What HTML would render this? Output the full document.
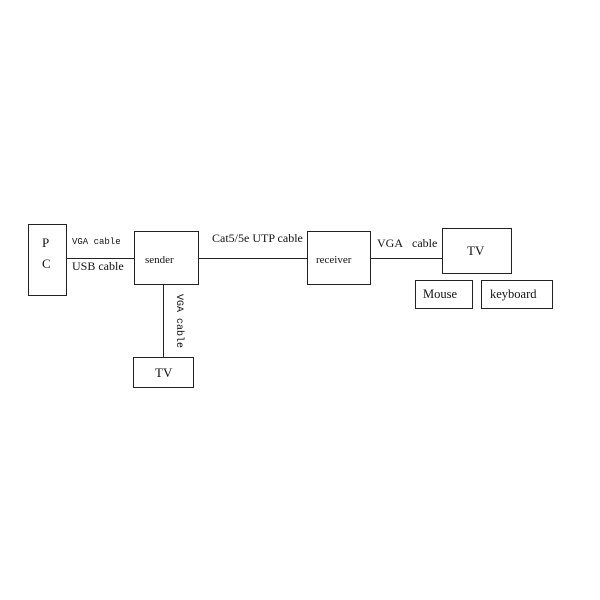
<!DOCTYPE html>
<html><head><style>
body{margin:0;width:600px;height:600px;background:#fff;position:relative;font-family:"Liberation Serif",serif;color:#111;overflow:hidden}
.b{position:absolute;border:1px solid #222;box-sizing:border-box}
.t{position:absolute;font-size:12px;white-space:nowrap;line-height:1}
.m{font-family:"Liberation Mono",monospace;font-size:9px}
.l{position:absolute;background:#222}
</style></head><body>
<div class="b" style="left:28px;top:224px;width:39px;height:72px"></div>
<div class="t" style="left:42px;top:236px;font-size:13px">P</div>
<div class="t" style="left:42px;top:257px;font-size:13px">C</div>
<div class="l" style="left:67px;top:258px;width:67px;height:1px"></div>
<div class="t m" style="left:72px;top:238px">VGA cable</div>
<div class="t" style="left:72px;top:260px">USB cable</div>
<div class="b" style="left:134px;top:231px;width:65px;height:54px"></div>
<div class="t" style="left:145px;top:255px;font-size:11px">sender</div>
<div class="l" style="left:199px;top:258px;width:108px;height:1px"></div>
<div class="t" style="left:212px;top:232px">Cat5/5e UTP cable</div>
<div class="l" style="left:163px;top:285px;width:1px;height:72px"></div>
<div class="t m" style="left:173px;top:294px;writing-mode:vertical-rl;font-size:10px">VGA cable</div>
<div class="b" style="left:133px;top:357px;width:61px;height:31px"></div>
<div class="t" style="left:155px;top:366px;font-size:13px">TV</div>
<div class="b" style="left:307px;top:231px;width:64px;height:54px"></div>
<div class="t" style="left:316px;top:255px;font-size:11px">receiver</div>
<div class="l" style="left:371px;top:258px;width:71px;height:1px"></div>
<div class="t" style="left:377px;top:237px">VGA&nbsp;&nbsp; cable</div>
<div class="b" style="left:442px;top:228px;width:70px;height:46px"></div>
<div class="t" style="left:467px;top:244px;font-size:13px">TV</div>
<div class="b" style="left:415px;top:280px;width:58px;height:29px"></div>
<div class="t" style="left:423px;top:288px;font-size:12.5px">Mouse</div>
<div class="b" style="left:481px;top:280px;width:72px;height:29px"></div>
<div class="t" style="left:490px;top:288px;font-size:12.5px">keyboard</div>
</body></html>
